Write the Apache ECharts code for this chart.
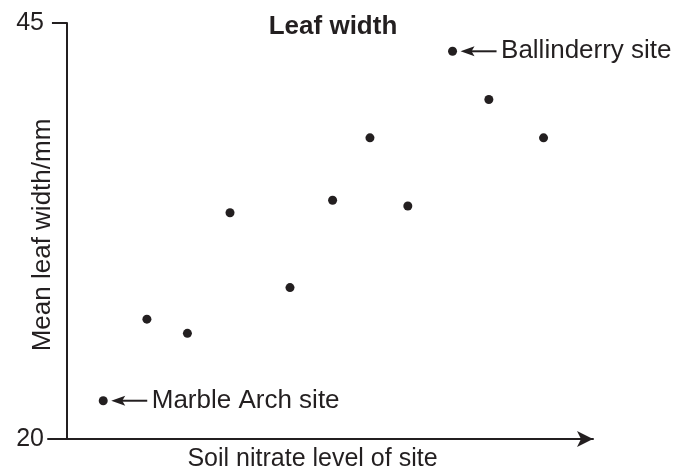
<!DOCTYPE html>
<html>
<head>
<meta charset="utf-8">
<script src="https://cdn.jsdelivr.net/npm/echarts@6/dist/echarts.min.js"></script>
<style>html,body{margin:0;padding:0;background:#fff}#c{width:691px;height:473px}</style>
</head>
<body>
<div id="c"></div>
<script>
// Soil nitrate level (arbitrary units, no scale shown) and mean leaf width (mm)
var nitrate = [6.9, 15.2, 22.9, 31.0, 42.4, 50.5, 57.6, 64.8, 73.3, 80.2, 90.6];
var leafWidth = [22.3, 27.2, 26.35, 33.6, 29.1, 34.35, 38.1, 34.0, 43.3, 40.4, 38.1];
var siteNames = ['Marble Arch site', '', '', '', '', '', '', '', 'Ballinderry site', '', ''];
var yTicks = [20, 45];

var ink = '#231f20';
var font = '"Liberation Sans", Arial, sans-serif';
var chart = echarts.init(document.getElementById('c'));
var data = nitrate.map(function (x, i) {
  var d = { value: [x, leafWidth[i]] };
  if (siteNames[i]) {
    d.label = { show: true, position: 'right', distance: 44, formatter: siteNames[i],
      color: ink, fontSize: 26, fontFamily: font };
  }
  return d;
});
chart.setOption({
  animation: false,
  title: { text: 'Leaf width', left: 328, top: 9, textAlign: 'center',
    textStyle: { fontSize: 26, fontWeight: 'bold', color: ink, fontFamily: font } },
  grid: { left: 48, right: 98, top: 23, bottom: 34, containLabel: false, outerBoundsMode: 'none' },
  xAxis: {
    type: 'value', min: -3.6, max: 100,
    name: 'Soil nitrate level of site', nameLocation: 'middle', nameGap: 8, nameMoveOverlap: false,
    nameTextStyle: { fontSize: 25, color: ink, fontFamily: font, padding: [0, 16, 0, 0] },
    axisLine: { show: true, lineStyle: { color: ink, width: 2 }, symbol: ['none', 'arrow'], symbolSize: [12, 16] },
    axisTick: { show: false }, axisLabel: { show: false }, splitLine: { show: false }
  },
  yAxis: {
    type: 'value', min: yTicks[0], max: yTicks[1], interval: yTicks[1] - yTicks[0],
    name: 'Mean leaf width/mm', nameLocation: 'middle', nameGap: -8, nameMoveOverlap: false,
    nameTextStyle: { fontSize: 26, color: ink, fontFamily: font, padding: [0, 8, 0, 0] },
    axisLine: { show: true, onZero: true, lineStyle: { color: ink, width: 2 } },
    axisTick: { show: true, length: 15, lineStyle: { color: ink, width: 2 } },
    axisLabel: { margin: 4, fontSize: 25, color: ink, fontFamily: font },
    splitLine: { show: false }
  },
  series: [{
    type: 'scatter', symbolSize: 9, itemStyle: { color: ink, opacity: 1 },
    data: data
  }]
});

// arrows pointing at the labelled sites, positioned through the chart's own scales
var g = [];
nitrate.forEach(function (x, i) {
  if (!siteNames[i]) return;
  var p = chart.convertToPixel({ gridIndex: 0 }, [x, leafWidth[i]]);
  var tip = p[0] + 8, end = p[0] + 44, y = p[1];
  g.push({ type: 'line', shape: { x1: tip + 8, y1: y, x2: end, y2: y }, style: { stroke: ink, lineWidth: 2 } });
  g.push({ type: 'polygon', shape: { points: [[tip, y], [tip + 14, y - 5], [tip + 11, y], [tip + 14, y + 5]] }, style: { fill: ink } });
});
chart.setOption({ graphic: g });
</script>
</body>
</html>
